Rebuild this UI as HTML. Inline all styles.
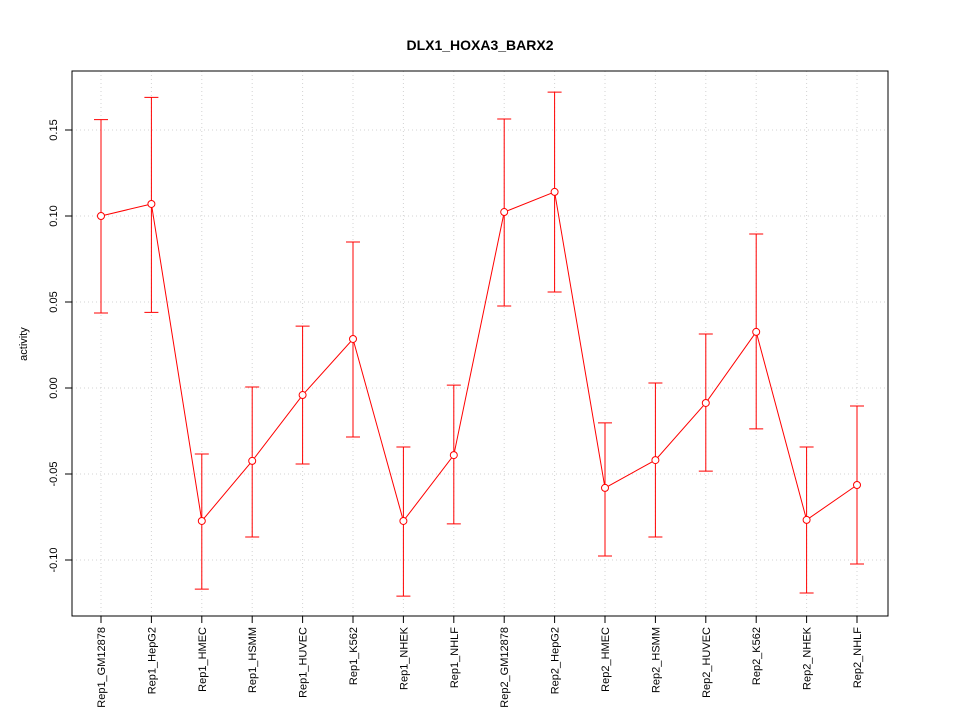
<!DOCTYPE html>
<html><head><meta charset="utf-8"><style>
html,body{margin:0;padding:0;background:#fff;}
svg{display:block;font-family:"Liberation Sans",Arial,sans-serif;}
</style></head><body>
<svg id="chart" width="960" height="720" viewBox="0 0 960 720" xmlns="http://www.w3.org/2000/svg">
<text x="480" y="50" text-anchor="middle" font-size="14" font-weight="bold">DLX1_HOXA3_BARX2</text>
<text transform="translate(27,344) rotate(-90)" text-anchor="middle" font-size="11">activity</text>
<g id="grid"></g><g id="axes"></g><g id="series"></g>
<rect x="72" y="71" width="816" height="545" fill="none" stroke="#000" stroke-width="1"/>
</svg>
<script>
const categories = ["Rep1_GM12878","Rep1_HepG2","Rep1_HMEC","Rep1_HSMM","Rep1_HUVEC","Rep1_K562","Rep1_NHEK","Rep1_NHLF","Rep2_GM12878","Rep2_HepG2","Rep2_HMEC","Rep2_HSMM","Rep2_HUVEC","Rep2_K562","Rep2_NHEK","Rep2_NHLF"];
const values = [0.100,0.107,-0.0773,-0.0424,-0.0041,0.0285,-0.0773,-0.039,0.1023,0.114,-0.0581,-0.0419,-0.0087,0.0326,-0.0767,-0.0564];
const upper = [0.156,0.169,-0.0384,0.0006,0.036,0.0849,-0.0343,0.0017,0.1564,0.172,-0.0203,0.0029,0.0314,0.0895,-0.0343,-0.0105];
const lower = [0.0436,0.044,-0.1169,-0.0866,-0.0442,-0.0285,-0.121,-0.079,0.0477,0.0558,-0.0977,-0.0866,-0.0483,-0.0238,-0.1192,-0.1023];
const yTicks = [-0.10,-0.05,0.00,0.05,0.10,0.15];
const yTickLabels = ["-0.10","-0.05","0.00","0.05","0.10","0.15"];

const NS="http://www.w3.org/2000/svg";
const x0=101, x1=857;
function xScale(i){return x0+(x1-x0)*i/(categories.length-1);}
function yScale(v){return 388-v*1720;}
function mk(tag,attrs,parent){const e=document.createElementNS(NS,tag);for(const k in attrs)e.setAttribute(k,attrs[k]);parent.appendChild(e);return e;}
const grid=document.getElementById('grid'),axes=document.getElementById('axes'),series=document.getElementById('series');

yTicks.forEach((t,i)=>{
  const y=yScale(t);
  const g=mk('line',{x1:72,x2:888,y1:y,y2:y,stroke:'#d3d3d3','stroke-dasharray':'1,3'},grid);
  
  
  const tk=mk('line',{x1:65,x2:72,y1:y,y2:y,stroke:'#000'},axes);
  
  
  const tx=mk('text',{transform:`translate(57,${y}) rotate(-90)`,'text-anchor':'middle','font-size':'11'},axes);
  tx.textContent=yTickLabels[i];
  
  
});
categories.forEach((c,i)=>{
  const x=xScale(i);
  const g=mk('line',{x1:x,x2:x,y1:71,y2:616,stroke:'#d3d3d3','stroke-dasharray':'1,3'},grid);
  
  
  const tk=mk('line',{x1:x,x2:x,y1:616,y2:623,stroke:'#000'},axes);
  
  
  const tx=mk('text',{transform:`translate(${x+4},627) rotate(-90)`,'text-anchor':'end','font-size':'11'},axes);
  tx.textContent=c;
  
  
});
let pts=values.map((v,i)=>xScale(i)+','+yScale(v)).join(' ');
const line=mk('polyline',{points:pts,fill:'none',stroke:'#ff0000','stroke-width':1},series);


values.forEach((v,i)=>{
  const x=xScale(i),yu=yScale(upper[i]),yl=yScale(lower[i]);
  const eb=mk('path',{d:`M${x},${yu}V${yl}M${x-7},${yu}H${x+7}M${x-7},${yl}H${x+7}`,stroke:'#ff0000',fill:'none','stroke-width':1},series);
  
  
  const c=mk('circle',{cx:x,cy:yScale(v),r:3.5,fill:'#fff',stroke:'#ff0000','stroke-width':1},series);
  
  
});
</script>
</body></html>
